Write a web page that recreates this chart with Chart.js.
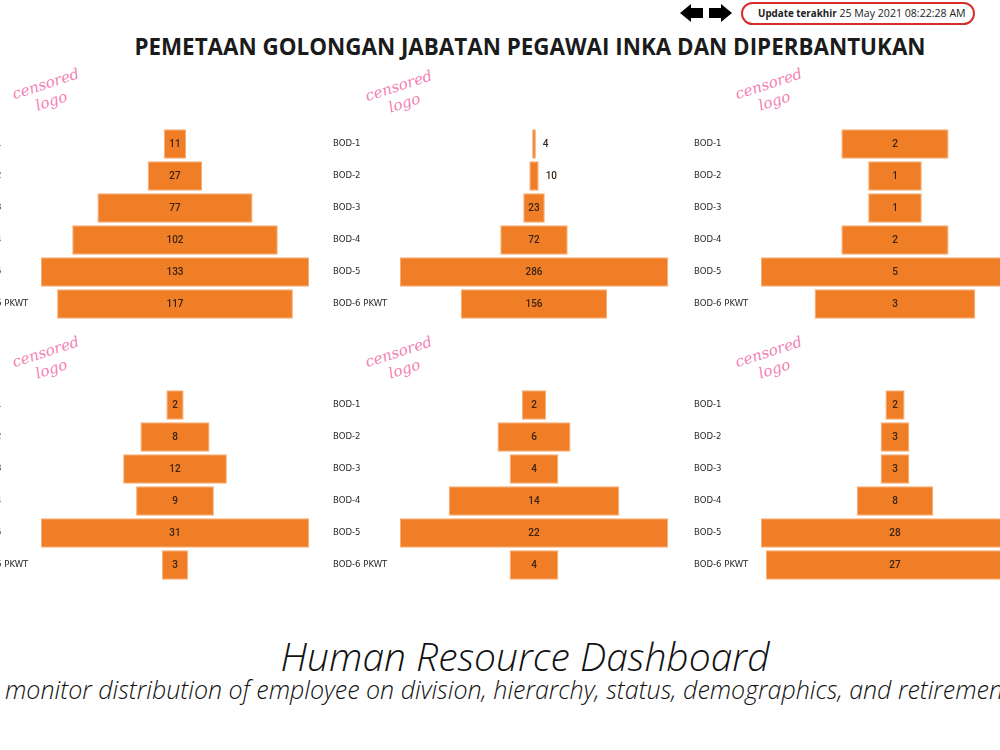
<!DOCTYPE html>
<html lang="id">

<head>
    <meta charset="UTF-8">
    <title>Pemetaan Golongan Jabatan</title>
    <script src="https://cdn.jsdelivr.net/npm/chart.js"></script>
    <style>
        html, body { margin: 0; padding: 0; }
        body {
            width: 1000px; height: 750px; position: relative; overflow: hidden;
            background: #fff; font-family: 'Open Sans', sans-serif;
        }
        /* panah navigasi */
        .arrow-left, .arrow-right { position: absolute; top: 4px; width: 24px; height: 18px; }
        .arrow-left { left: 680px; }
        .arrow-right { left: 708px; }
        .arrow-left::before, .arrow-right::before {
            content: ''; position: absolute; top: 0; width: 0; height: 0;
            border-top: 9px solid transparent; border-bottom: 9px solid transparent;
        }
        .arrow-left::before { left: 0; border-right: 11px solid #000; }
        .arrow-right::before { right: 0; border-left: 11px solid #000; }
        .arrow-left::after, .arrow-right::after {
            content: ''; position: absolute; top: 4px; width: 13px; height: 10px; background: #000;
        }
        .arrow-left::after { left: 10px; }
        .arrow-right::after { left: 1px; }
        .update {
            position: absolute; left: 741px; top: 2px; width: 230px; height: 19px;
            border: 2px solid #d62f2b; border-radius: 12px;
            font-family: 'Open Sans', sans-serif; font-size: 10.6px; color: #222;
            line-height: 19px; white-space: nowrap;
        }
        .update span { margin-left: 15px; font-weight: 700; font-size: 9.8px; }
        .title {
            position: absolute; left: 0; width: 1060px; top: 31px; text-align: center;
            font-family: 'Open Sans', sans-serif; font-weight: 700; font-size: 22.4px; color: #1b1b1b;
        }
        .logo {
            position: absolute; color: #f47fb5; font-family: 'DejaVu Serif', serif;
            font-style: italic; font-size: 15px; line-height: 18px; text-align: center;
            transform: rotate(-18deg); transform-origin: left top;
        }
        canvas { position: absolute; }
        .footer {
            position: absolute; left: 0; width: 1050px; top: 629px; text-align: center;
            font-family: 'Open Sans', sans-serif; font-style: italic; font-weight: 300;
            font-size: 39px; color: #111;
        }
        .sub {
            position: absolute; left: 5px; top: 672px; white-space: nowrap;
            font-family: 'Open Sans', sans-serif; font-style: italic; font-weight: 300;
            font-size: 25px; color: #111;
        }
    </style>
</head>

<body>
    <div class="arrow-left"></div>
    <div class="arrow-right"></div>
    <div class="update"><span>Update terakhir</span> 25 May 2021 08:22:28 AM</div>
    <div class="title">PEMETAAN GOLONGAN JABATAN PEGAWAI INKA DAN DIPERBANTUKAN</div>

    <div class="logo" style="left:10px;top:86px">censored<br>logo</div>
    <div class="logo" style="left:363px;top:88px">censored<br>logo</div>
    <div class="logo" style="left:733px;top:86px">censored<br>logo</div>
    <div class="logo" style="left:10px;top:354px">censored<br>logo</div>
    <div class="logo" style="left:363px;top:354px">censored<br>logo</div>
    <div class="logo" style="left:733px;top:354px">censored<br>logo</div>

    <canvas id="chart1" width="335" height="192" style="left:-26px;top:128px"></canvas>
    <canvas id="chart2" width="335" height="192" style="left:333px;top:128px"></canvas>
    <canvas id="chart3" width="335" height="192" style="left:694px;top:128px"></canvas>
    <canvas id="chart4" width="335" height="192" style="left:-26px;top:389px"></canvas>
    <canvas id="chart5" width="335" height="192" style="left:333px;top:389px"></canvas>
    <canvas id="chart6" width="335" height="192" style="left:694px;top:389px"></canvas>

    <div class="footer">Human Resource Dashboard</div>
    <div class="sub">monitor distribution of employee on division, hierarchy, status, demographics, and retirement</div>

    <script>
        // golongan jabatan
        const categories = ['BOD-1', 'BOD-2', 'BOD-3', 'BOD-4', 'BOD-5', 'BOD-6 PKWT'];

        // jumlah pegawai per panel (atas kiri -> bawah kanan)
        const panel1 = [11, 27, 77, 102, 133, 117];
        const panel2 = [4, 10, 23, 72, 286, 156];
        const panel3 = [2, 1, 1, 2, 5, 3];
        const panel4 = [2, 8, 12, 9, 31, 3];
        const panel5 = [2, 6, 4, 14, 22, 4];
        const panel6 = [2, 3, 3, 8, 28, 27];

        const orange = '#f07e26';
        const labelFont = '"DejaVu Sans Condensed", "Liberation Sans Narrow", sans-serif';

        // tulis angka di tengah bar, atau di kanan kalau bar terlalu kecil
        const valueLabels = {
            id: 'valueLabels',
            afterDatasetsDraw(chart) {
                const ctx = chart.ctx;
                const meta = chart.getDatasetMeta(0);
                const data = chart.data.datasets[0].data;
                ctx.save();
                ctx.font = '500 10px Roboto, sans-serif';
                ctx.fillStyle = '#3a2316';
                ctx.textBaseline = 'middle';
                meta.data.forEach((bar, i) => {
                    const value = data[i][1] - data[i][0];
                    const text = String(value);
                    const left = Math.min(bar.x, bar.base);
                    const right = Math.max(bar.x, bar.base);
                    const textWidth = ctx.measureText(text).width;
                    if (right - left > textWidth + 6) {
                        ctx.textAlign = 'center';
                        ctx.fillText(text, (left + right) / 2, bar.y);
                    } else {
                        ctx.textAlign = 'left';
                        ctx.fillText(text, right + 7, bar.y);
                    }
                });
                ctx.restore();
            }
        };

        function drawFunnel(canvasId, values) {
            const ctx = document.getElementById(canvasId).getContext('2d');
            const max = Math.max(...values);
            return new Chart(ctx, {
                type: 'bar',
                data: {
                    labels: categories,
                    datasets: [{
                        data: values.map(v => [-v / 2, v / 2]),
                        backgroundColor: orange,
                        borderColor: '#f8ad72',
                        borderWidth: 1,
                        borderSkipped: false,
                        barPercentage: 0.92,
                        categoryPercentage: 1
                    }]
                },
                options: {
                    indexAxis: 'y',
                    responsive: false,
                    animation: false,
                    layout: { padding: 0 },
                    plugins: {
                        legend: { display: false },
                        tooltip: { enabled: false }
                    },
                    scales: {
                        x: { display: false, min: -max / 2, max: max / 2 },
                        y: {
                            grid: { display: false },
                            border: { display: false },
                            ticks: {
                                crossAlign: 'far',
                                padding: 0,
                                color: '#2b2b2b',
                                font: { size: 9.5, family: labelFont }
                            },
                            afterFit(scale) {
                                scale.width = 67;
                                scale.paddingTop = 0;
                                scale.paddingBottom = 0;
                            }
                        }
                    }
                },
                plugins: [valueLabels]
            });
        }

        drawFunnel('chart1', panel1);
        drawFunnel('chart2', panel2);
        drawFunnel('chart3', panel3);
        drawFunnel('chart4', panel4);
        drawFunnel('chart5', panel5);
        drawFunnel('chart6', panel6);
    </script>
</body>

</html>
